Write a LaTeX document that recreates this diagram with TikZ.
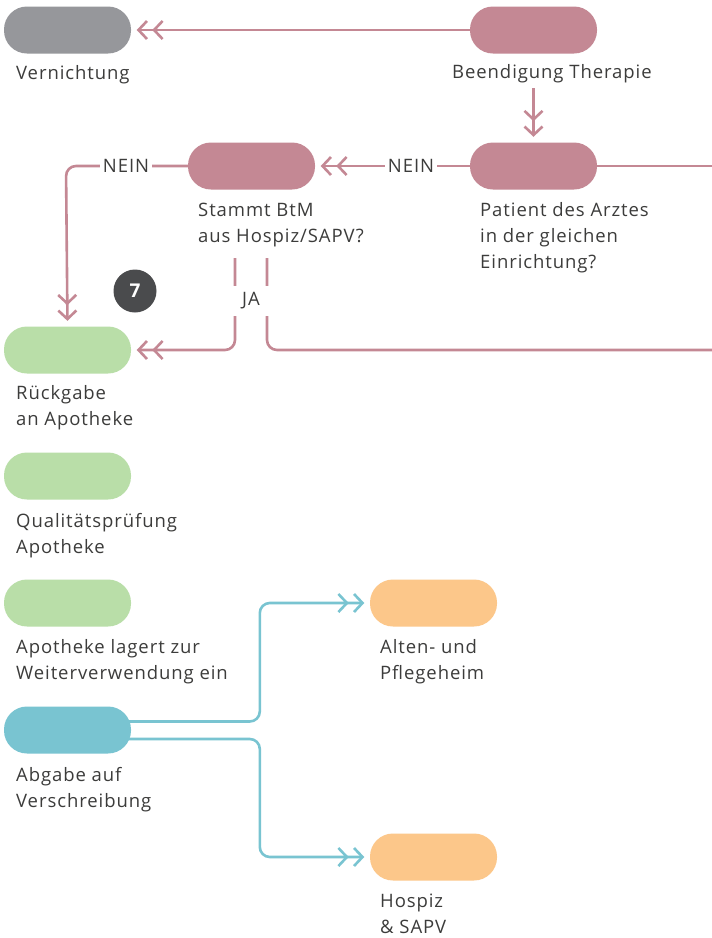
\documentclass[tikz,border=0pt]{standalone}
\usepackage{fontspec}
\setmainfont[LetterSpace=5]{Open Sans}
\usetikzlibrary{arrows.meta,calc}
\definecolor{cgray}{HTML}{96979B}
\definecolor{cmauve}{HTML}{C48894}
\definecolor{cgreen}{HTML}{B9DEA8}
\definecolor{cteal}{HTML}{79C4D1}
\definecolor{corange}{HTML}{FCC78A}
\definecolor{cbadge}{HTML}{4A4B4D}
\definecolor{ctext}{HTML}{3C3C3B}
\begin{document}
\begin{tikzpicture}[x=1pt,y=-1pt,
  pill/.style={rectangle,rounded corners=23pt,minimum width=127pt,minimum height=47pt,inner sep=0pt,fill=#1},
  lbl/.style={anchor=base west,inner sep=0pt,text=ctext,font=\fontsize{18.5}{26}\selectfont,align=left},
  conn/.style={line width=2.6pt,draw=#1},
  dbl/.style={-{Straight Barb[length=8.5pt,width=18pt,sep=4pt] Straight Barb[length=8.5pt,width=18pt]},shorten >=5.5pt},
  tag/.style={fill=white,inner sep=3pt,text=ctext,font=\fontsize{18.5}{21}\selectfont}]
\useasboundingbox[fill=white] (0,0) rectangle (712,938);
% pills
\node[pill=cgray]   (vern)   at (67.5,30) {};
\node[pill=cmauve]  (beend)  at (533.5,30) {};
\node[pill=cmauve]  (pat)    at (533.5,166) {};
\node[pill=cmauve]  (stammt) at (251.5,166) {};
\node[pill=cgreen]  (rueck)  at (67.5,350) {};
\node[pill=cgreen]  (qual)   at (67.5,476) {};
\node[pill=cgreen]  (lager)  at (67.5,603) {};
\node[pill=cteal]   (abgabe) at (67.5,730) {};
\node[pill=corange] (alten)  at (433.5,603) {};
\node[pill=corange] (hospiz) at (433.5,857) {};
% labels (anchor = baseline of last line)
\node[lbl] (lvern)   at (16,79)  {Vernichtung};
\node[lbl] (lbeend)  at (452,78) {Beendigung Therapie};
\node[lbl] (lpat)    at (480,268) {Patient des Arztes\\in der gleichen\\Einrichtung?};
\node[lbl] (lstammt) at (198,242) {Stammt BtM\\aus Hospiz/SAPV?};
\node[lbl] (lrueck)  at (16,425) {Rückgabe\\an Apotheke};
\node[lbl] (lqual)   at (16,553) {Qualitätsprüfung\\Apotheke};
\node[lbl] (llager)  at (16,679) {Apotheke lagert zur\\Weiterverwendung ein};
\node[lbl] (labgabe) at (16,807) {Abgabe auf\\Verschreibung};
\node[lbl] (lalten)  at (380,679) {Alten- und\\Pflegeheim};
\node[lbl] (lhospiz) at (380,933) {Hospiz\\\& SAPV};
% badge
\node[circle,fill=cbadge,minimum size=43pt,inner sep=0pt,text=white,font=\fontsize{19}{19}\selectfont\bfseries] (badge) at (135,291) {7};
% coordinates
\coordinate (bstart) at (533.5,88);
\coordinate (pend) at (712,166);
\coordinate (ja1) at (235,258);
\coordinate (ja2) at (267,258);
\coordinate (jend) at (712,350);
\coordinate (nl) at (66,166);
\coordinate (t1) at ($(abgabe.east)+(-10,-8.5)$);
\coordinate (t2) at ($(abgabe.east)+(-10,9)$);
% mauve connectors
\draw[conn=cmauve,dbl] (beend.west) -- (vern.east);
\draw[conn=cmauve,dbl] (bstart) -- (pat.north);
\draw[conn=cmauve] (pat.east) -- (pend);
\draw[conn=cmauve,dbl] (pat.west) -- node[tag,pos=0.38] (nein1) {NEIN} (stammt.east);
\draw[conn=cmauve,dbl,rounded corners=10pt] (stammt.west) -- (nl) -- (rueck.north);
\node[tag] (nein2) at (126,166) {NEIN};
\draw[conn=cmauve,dbl,rounded corners=10pt] (ja1) |- (rueck.east);
\draw[conn=cmauve,rounded corners=10pt] (ja2) |- (jend);
\node[tag,minimum width=44pt,minimum height=30pt] (ja) at (251,301) {JA};
% teal connectors
\draw[conn=cteal,dbl,rounded corners=10pt] (t1) -| ($(alten.west)+(-110,0)$) -- (alten.west);
\draw[conn=cteal,dbl,rounded corners=10pt] (t2) -| ($(hospiz.west)+(-110,0)$) -- (hospiz.west);
\end{tikzpicture}
\end{document}
